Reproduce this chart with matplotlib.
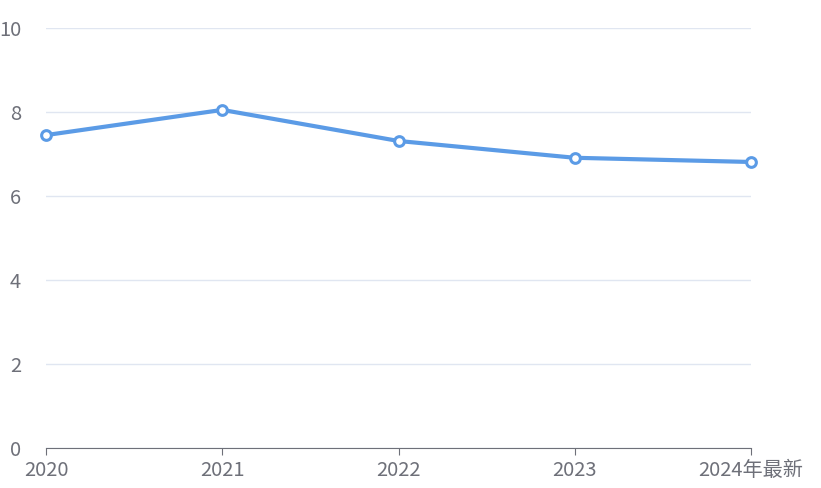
import matplotlib
matplotlib.use("Agg")
import matplotlib.pyplot as plt

plt.rcParams['font.family'] = ['Noto Sans CJK SC', 'DejaVu Sans']

categories = ["2020", "2021", "2022", "2023", "2024年最新"]
values = [7.45, 8.05, 7.31, 6.91, 6.81]
yticks = [0, 2, 4, 6, 8, 10]

fig = plt.figure(figsize=(8.21, 4.88), dpi=100)
ax = fig.add_axes([46/821, 40/488, 705/821, 420/488])
x = list(range(len(categories)))
ax.plot(x, values, color='#5b9be6', lw=3, marker='o', ms=7, mfc='white', mec='#5b9be6', mew=2.2, zorder=3, clip_on=False)
ax.set_xlim(0, len(categories)-1)
ax.set_ylim(0, 10)
ax.set_yticks(yticks)
ax.set_xticks(x)
ax.set_xticklabels(categories)
ax.grid(axis='y', color='#e0e6f1', lw=1)
for s in ['top', 'right', 'left']:
    ax.spines[s].set_visible(False)
ax.spines['bottom'].set_color('#6e7079')
ax.tick_params(axis='y', length=0, labelsize=14.5, labelcolor='#6e7079', pad=18)
ax.tick_params(axis='x', length=5, color='#6e7079', labelsize=14.5, labelcolor='#6e7079', pad=4)
fig.savefig("out.png", dpi=100)
